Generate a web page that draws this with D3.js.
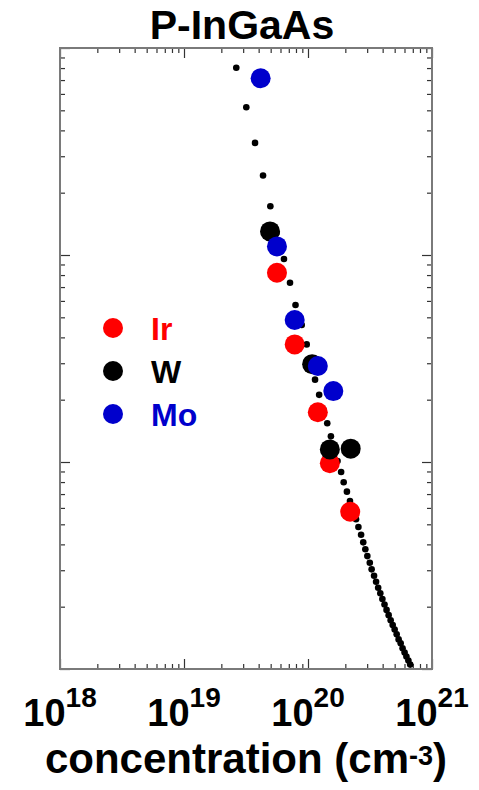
<!DOCTYPE html>
<html>
<head>
<meta charset="utf-8">
<script src="https://cdn.jsdelivr.net/npm/d3@7"></script>
<style>
  body { margin: 0; background: #fff; }
  svg { display: block; font-family: "Liberation Sans", Arial, sans-serif; font-weight: bold; }
</style>
</head>
<body>
<svg id="chart" width="479" height="790"></svg>
<script>
// ---- data ----
const title = 'P-InGaAs';
const xDecades = [18, 19, 20, 21];

// model curve (small black dots)
const curveConc = [
  2.64e19, 3.18e19, 3.74e19, 4.34e19, 4.97e19, 5.57e19, 6.40e19, 7.16e19, 7.93e19, 8.90e19,
  9.76e19, 1.06e20, 1.14e20, 1.23e20, 1.33e20, 1.43e20, 1.53e20, 1.64e20, 1.73e20, 1.85e20,
  1.94e20, 2.06e20, 2.18e20, 2.31e20, 2.44e20, 2.55e20, 2.68e20, 2.79e20, 2.90e20, 3.01e20,
  3.15e20, 3.26e20, 3.41e20, 3.54e20, 3.68e20, 3.83e20, 3.98e20, 4.14e20, 4.30e20, 4.47e20,
  4.64e20, 4.82e20, 5.00e20, 5.19e20, 5.38e20, 5.59e20, 5.79e20, 6.01e20, 6.22e20, 6.45e20,
  6.67e20
];
const curveRho = [
  8.03e-7, 5.17e-7, 3.48e-7, 2.42e-7, 1.72e-7, 1.28e-7, 9.57e-8, 7.35e-8, 5.73e-8, 4.59e-8,
  3.70e-8, 3.02e-8, 2.50e-8, 2.11e-8, 1.79e-8, 1.54e-8, 1.33e-8, 1.16e-8, 1.01e-8, 8.95e-9,
  7.98e-9, 7.19e-9, 6.48e-9, 5.86e-9, 5.29e-9, 4.85e-9, 4.45e-9, 4.09e-9, 3.79e-9, 3.51e-9,
  3.26e-9, 3.03e-9, 2.82e-9, 2.64e-9, 2.47e-9, 2.32e-9, 2.18e-9, 2.05e-9, 1.93e-9, 1.82e-9,
  1.72e-9, 1.63e-9, 1.55e-9, 1.47e-9, 1.39e-9, 1.33e-9, 1.26e-9, 1.20e-9, 1.15e-9, 1.10e-9,
  1.05e-9
];

const irConc = [5.62e19, 7.81e19, 1.20e20, 1.50e20, 2.19e20];
const irRho  = [8.21e-8, 3.70e-8, 1.74e-8, 9.86e-9, 5.75e-9];
const wConc  = [4.94e19, 1.08e20, 1.50e20, 2.21e20];
const wRho   = [1.30e-7, 2.97e-8, 1.15e-8, 1.16e-8];
const moConc = [4.15e19, 5.62e19, 7.81e19, 1.20e20, 1.60e20];
const moRho  = [7.14e-7, 1.10e-7, 4.85e-8, 2.91e-8, 2.20e-8];

const seriesNames  = ['Ir', 'W', 'Mo'];
const seriesColors = ['#ff0000', '#000000', '#0000cc'];

// ---- layout ----
const plotL = 60, plotR = 432, plotT = 48, plotB = 669;
const svg = d3.select('#chart');

const x = d3.scaleLog().domain([1e18, 1e21]).range([plotL, plotR]);
const y = d3.scaleLog().domain([1e-9, 1e-6]).range([plotB, plotT]);

function logTicks(lo, hi) {
  const t = [];
  for (let e = lo; e < hi; e += 1) {
    for (let m = 1; m < 10; m += 1) t.push(+(m + 'e' + e));
  }
  t.push(+('1e' + hi));
  return t;
}
const isMajor = d => Math.abs(Math.log10(d) - Math.round(Math.log10(d))) < 1e-6;

const xTicks = logTicks(18, 21);
const yTicks = logTicks(-9, -6);

function styleTicks(g, attr, sign) {
  g.select('.domain').remove();
  g.selectAll('.tick line')
    .attr(attr, d => sign * (isMajor(d) ? 10 : 5))
    .attr('stroke', '#333')
    .attr('stroke-width', 1.2);
}

svg.append('g').attr('transform', `translate(0,${plotB})`)
  .call(d3.axisBottom(x).tickValues(xTicks).tickSize(-5).tickFormat(''))
  .call(g => styleTicks(g, 'y2', -1));
svg.append('g').attr('transform', `translate(0,${plotT})`)
  .call(d3.axisTop(x).tickValues(xTicks).tickSize(-5).tickFormat(''))
  .call(g => styleTicks(g, 'y2', 1));
svg.append('g').attr('transform', `translate(${plotL},0)`)
  .call(d3.axisLeft(y).tickValues(yTicks).tickSize(-5).tickFormat(''))
  .call(g => styleTicks(g, 'x2', 1));
svg.append('g').attr('transform', `translate(${plotR},0)`)
  .call(d3.axisRight(y).tickValues(yTicks).tickSize(-5).tickFormat(''))
  .call(g => styleTicks(g, 'x2', -1));

// frame
svg.append('rect')
  .attr('x', plotL).attr('y', plotT)
  .attr('width', plotR - plotL).attr('height', plotB - plotT)
  .attr('fill', 'none').attr('stroke', '#7a7a7a').attr('stroke-width', 2);

// x tick labels 10^n
const xl = svg.append('g').selectAll('text').data(xDecades).join('text')
  .attr('x', d => x(Math.pow(10, d)))
  .attr('y', 726)
  .attr('text-anchor', 'middle')
  .attr('fill', '#000');
xl.append('tspan').attr('font-size', 38).text('10');
xl.append('tspan').attr('font-size', 28).attr('dy', -19).text(d => d);

// axis title
const xTitle = svg.append('text')
  .attr('x', 246).attr('y', 773)
  .attr('text-anchor', 'middle')
  .attr('font-size', 42);
xTitle.append('tspan').text('concentration (cm');
xTitle.append('tspan').attr('font-size', 27).attr('dy', -8).text('-3');
xTitle.append('tspan').attr('dy', 8).text(')');

// title
svg.append('text')
  .attr('x', 242).attr('y', 39)
  .attr('text-anchor', 'middle')
  .attr('font-size', 41)
  .text(title);

// curve dots
svg.append('g').selectAll('circle').data(d3.zip(curveConc, curveRho)).join('circle')
  .attr('cx', d => x(d[0])).attr('cy', d => y(d[1]))
  .attr('r', 3.3).attr('fill', '#000');

// measured points
const measured = [d3.zip(irConc, irRho), d3.zip(wConc, wRho), d3.zip(moConc, moRho)];
measured.forEach((pts, i) => {
  svg.append('g').selectAll('circle').data(pts).join('circle')
    .attr('cx', d => x(d[0])).attr('cy', d => y(d[1]))
    .attr('r', 10).attr('fill', seriesColors[i]);
});

// legend
const lg = svg.append('g').selectAll('g').data(seriesNames).join('g')
  .attr('transform', (d, i) => `translate(113,${328 + i * 43})`);
lg.append('circle').attr('r', 10).attr('fill', (d, i) => seriesColors[i]);
lg.append('text')
  .attr('x', 38).attr('y', 11.5)
  .attr('font-size', 32)
  .attr('fill', (d, i) => seriesColors[i])
  .text(d => d);
</script>
</body>
</html>
